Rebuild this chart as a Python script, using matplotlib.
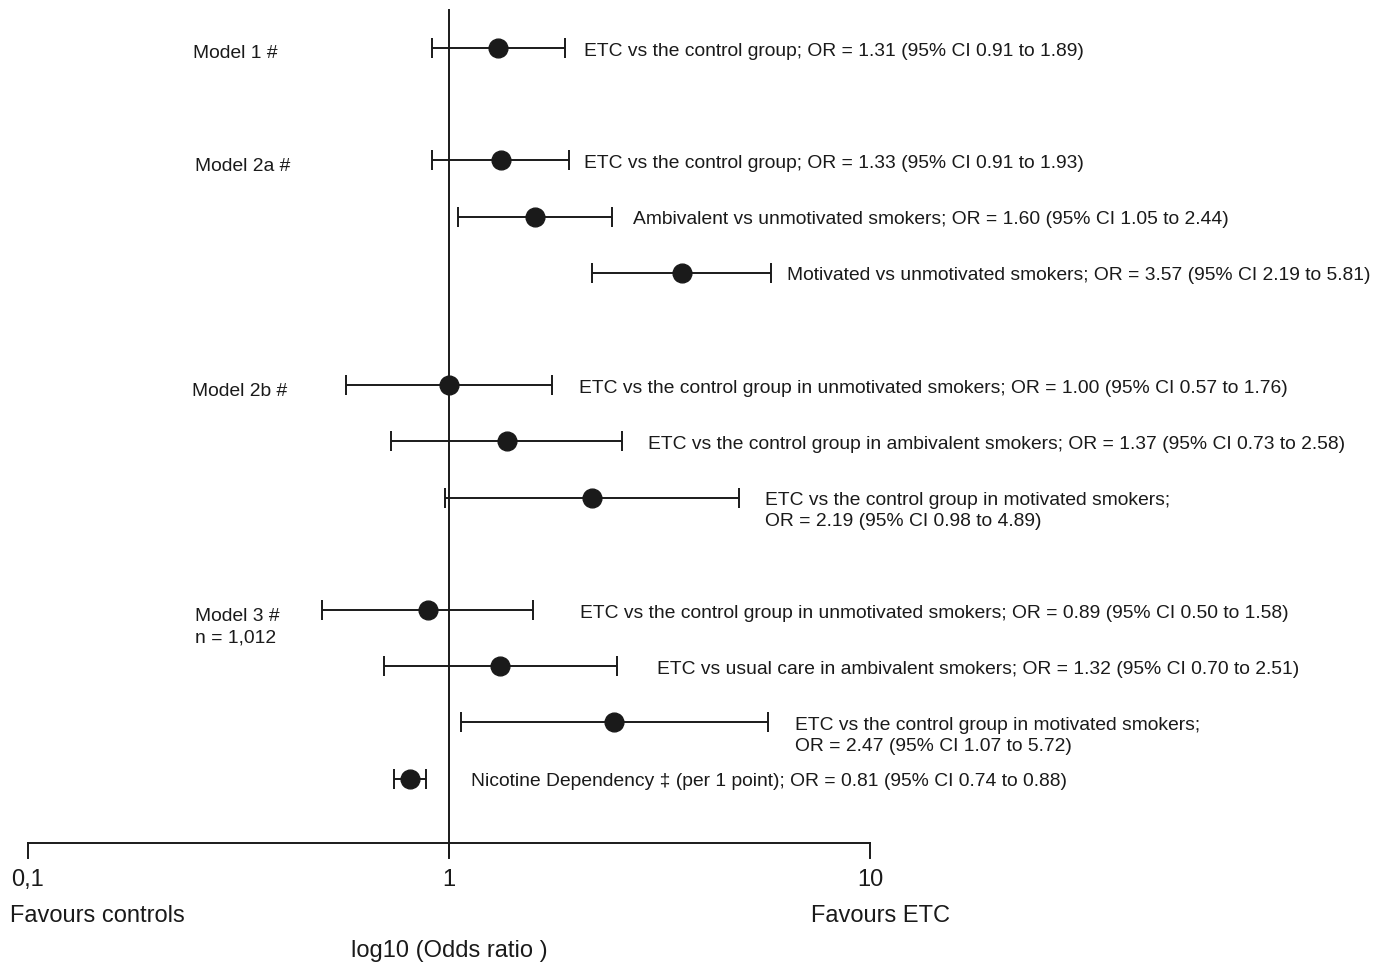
import numpy as np
import matplotlib.pyplot as plt

plt.rcParams['font.family'] = ['Liberation Sans', 'DejaVu Sans']

# odds ratios and 95% CI, one entry per row of the forest plot
labels = [
    "ETC vs the control group; OR = 1.31 (95% CI 0.91 to 1.89)",
    "ETC vs the control group; OR = 1.33 (95% CI 0.91 to 1.93)",
    "Ambivalent vs unmotivated smokers; OR = 1.60 (95% CI 1.05 to 2.44)",
    "Motivated vs unmotivated smokers; OR = 3.57 (95% CI 2.19 to 5.81)",
    "ETC vs the control group in unmotivated smokers; OR = 1.00 (95% CI 0.57 to 1.76)",
    "ETC vs the control group in ambivalent smokers; OR = 1.37 (95% CI 0.73 to 2.58)",
    "ETC vs the control group in motivated smokers;\nOR = 2.19 (95% CI 0.98 to 4.89)",
    "ETC vs the control group in unmotivated smokers; OR = 0.89 (95% CI 0.50 to 1.58)",
    "ETC vs usual care in ambivalent smokers; OR = 1.32 (95% CI 0.70 to 2.51)",
    "ETC vs the control group in motivated smokers;\nOR = 2.47 (95% CI 1.07 to 5.72)",
    "Nicotine Dependency \u2021 (per 1 point); OR = 0.81 (95% CI 0.74 to 0.88)",
]
odds = [1.31, 1.33, 1.60, 3.57, 1.00, 1.37, 2.19, 0.89, 1.32, 2.47, 0.81]
ci_low = [0.91, 0.91, 1.05, 2.19, 0.57, 0.73, 0.98, 0.50, 0.70, 1.07, 0.74]
ci_high = [1.89, 1.93, 2.44, 5.81, 1.76, 2.58, 4.89, 1.58, 2.51, 5.72, 0.88]
rows = [0, 2, 3, 4, 6, 7, 8, 10, 11, 12, 13]
# gap (pixels) between the upper CI cap and the start of the label
label_gap = [19, 15, 21, 16, 27, 26, 26, 47, 40, 27, 45]

model_names = ["Model 1 #", "Model 2a #", "Model 2b #", "Model 3 #\nn = 1,012"]
model_rows = [0, 2, 6, 10]
model_x = [193, 195, 192, 195]

ticks = [0.1, 1, 10]
tick_labels = ["0,1", "1", "10"]

ink = '#1a1a1a'
row_px = 56.2
top_px = 48
fs_small = 13.9
fs_big = 17


def ypx(p):
    # pixel row in the image -> row units
    return (p - top_px) / row_px


fig = plt.figure(figsize=(13.86, 9.66), dpi=100)
ax = fig.add_axes([0, 0, 1, 1])
ax.set_xscale('log')
ax.set_xlim(10 ** (-449 / 421), 10 ** ((1386 - 449) / 421))
ax.set_ylim(ypx(966), ypx(0))
ax.axis('off')

odds_a = np.array(odds)
xerr = [odds_a - np.array(ci_low), np.array(ci_high) - odds_a]
ax.errorbar(odds, rows, xerr=xerr, fmt='o', color=ink, ms=13.5,
            elinewidth=1.4, capsize=7, capthick=1.4, zorder=3)

# reference line at OR = 1 and bottom axis
axis_y = ypx(843)
ax.plot([1, 1], [ypx(10), ypx(856)], color=ink, lw=1.4, zorder=2)
ax.plot([0.1, 10], [axis_y, axis_y], color=ink, lw=1.4)
for t, tl in zip(ticks, tick_labels):
    ax.plot([t, t], [axis_y, ypx(858)], color=ink, lw=1.4)
    ax.text(t, ypx(880), tl, ha='center', va='center', fontsize=fs_big, color=ink)

for r, lab, hi, gap in zip(rows, labels, ci_high, label_gap):
    lines = lab.split('\n')
    for i, line in enumerate(lines):
        ax.annotate(line, xy=(hi, r + (3 + i * 21) / row_px), xytext=(gap * 0.72, 0),
                    textcoords='offset points', ha='left', va='center',
                    fontsize=fs_small, color=ink)

for name, r, mx in zip(model_names, model_rows, model_x):
    for i, line in enumerate(name.split('\n')):
        ax.text(mx / 1386, r + (6 + i * 22) / row_px, line,
                transform=ax.get_yaxis_transform(), ha='left', va='center',
                fontsize=fs_small, color=ink)

ax.text(10 / 1386, ypx(916), "Favours controls", transform=ax.get_yaxis_transform(),
        ha='left', va='center', fontsize=fs_big, color=ink)
ax.text(811 / 1386, ypx(916), "Favours ETC", transform=ax.get_yaxis_transform(),
        ha='left', va='center', fontsize=fs_big, color=ink)
ax.text(1, ypx(951), "log10 (Odds ratio )", ha='center', va='center',
        fontsize=fs_big, color=ink)

fig.savefig('out.png', dpi=100, facecolor='white')
